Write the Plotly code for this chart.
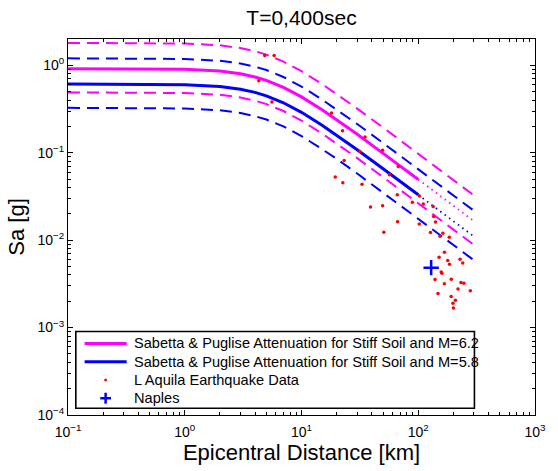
import plotly.graph_objects as go

# ---------------- data ----------------
dist = [0.1, 0.2, 0.5, 1, 2, 3, 4, 5, 7, 10, 15, 20, 30, 50, 70, 100, 150, 200, 300]

pink_med = [0.916, 0.916, 0.912, 0.901, 0.859, 0.801, 0.736, 0.672, 0.560, 0.435, 0.310, 0.239,
            0.1624, 0.0984, 0.0705, 0.0495, 0.0330, 0.0247, 0.0165]
pink_up = [1.804, 1.804, 1.797, 1.775, 1.692, 1.578, 1.450, 1.324, 1.103, 0.857, 0.611, 0.471,
           0.320, 0.194, 0.139, 0.0975, 0.0650, 0.0487, 0.0325]
pink_lo = [0.490, 0.490, 0.488, 0.482, 0.460, 0.429, 0.394, 0.360, 0.300, 0.233, 0.166, 0.128,
           0.0869, 0.0526, 0.0377, 0.0265, 0.0177, 0.0132, 0.00883]

blue_med = [0.610, 0.610, 0.607, 0.600, 0.572, 0.533, 0.490, 0.448, 0.373, 0.290, 0.206, 0.159,
            0.108, 0.0655, 0.0470, 0.0330, 0.0220, 0.0164, 0.0110]
blue_up = [1.202, 1.202, 1.196, 1.182, 1.127, 1.050, 0.965, 0.883, 0.735, 0.571, 0.406, 0.313,
           0.213, 0.129, 0.0926, 0.0650, 0.0433, 0.0323, 0.0217]
blue_lo = [0.326, 0.326, 0.325, 0.321, 0.306, 0.285, 0.262, 0.240, 0.200, 0.155, 0.110, 0.0851,
           0.0578, 0.0350, 0.0251, 0.0177, 0.0118, 0.00877, 0.00589]

# L'Aquila earthquake records (epicentral distance km, Sa g)
eq_dist = [4.31, 4.84, 5.83, 5.58, 18.07, 22.46, 35.0, 31.6, 49.5, 23.2, 19.45, 22.6, 67.4, 56.6,
           33.0, 66.1, 102.3, 89.1, 110.5, 134.1, 39.0, 49.5, 66.5, 135.6, 140.6, 102.0, 127.2,
           162.5, 153.7, 184.5, 50.7, 167.6, 150.8, 178.9, 185.3, 228.1, 240.4, 157.3, 159.4,
           139.3, 191.8, 167.3, 232.1, 246.0, 219.0, 279.3, 147.6, 191.4, 208.0, 198.2, 200.1]
eq_sa = [0.668, 1.291, 1.291, 0.381, 0.285, 0.1786, 0.1513, 0.1035, 0.1068, 0.0816, 0.0527, 0.0453,
         0.0697, 0.0560, 0.0436, 0.0330, 0.0319, 0.0272, 0.0259, 0.0243, 0.0239, 0.0248, 0.0162,
         0.01864, 0.0161, 0.01529, 0.01222, 0.01197, 0.01111, 0.01082, 0.01235, 0.00725, 0.00639,
         0.00584, 0.00531, 0.00606, 0.00547, 0.00433, 0.00417, 0.00354, 0.00358, 0.00318, 0.00327,
         0.00322, 0.00277, 0.00264, 0.00246, 0.00226, 0.00206, 0.00190, 0.00168]

naples_dist = [129.0]
naples_sa = [0.00485]

x_ticks = [0.1, 1, 10, 100, 1000]
x_ticktext = ["10<sup>−1</sup>", "10<sup>0</sup>", "10<sup>1</sup>", "10<sup>2</sup>", "10<sup>3</sup>"]
y_ticks = [1e-4, 1e-3, 1e-2, 1e-1, 1]
y_ticktext = ["10<sup>−4</sup>", "10<sup>−3</sup>", "10<sup>−2</sup>", "10<sup>−1</sup>", "10<sup>0</sup>"]

legend_names = ["Sabetta & Puglise Attenuation for Stiff Soil and M=6.2",
                "Sabetta & Puglise Attenuation for Stiff Soil and M=5.8",
                "L Aquila Earthquake Data",
                "Naples"]

MAG = "#ff00ff"
BLU = "#0000ff"
RED = "#ff0000"
FONT = "Liberation Sans, Arial, Helvetica, sans-serif"

# ---------------- layout geometry ----------------
W, H = 558, 471
PL, PR, PT, PB = 68, 546, 39, 415.7   # plot area in pixels


def px(xp):
    return (xp - PL) / (PR - PL)


def py(yp):
    return (PB - yp) / (PB - PT)


n_solid = dist.index(100) + 1

fig = go.Figure()

# dashed +/- sigma lines
for ys, col in [(pink_up, MAG), (pink_lo, MAG), (blue_up, BLU), (blue_lo, BLU)]:
    fig.add_trace(go.Scatter(x=dist, y=ys, mode="lines", showlegend=False, hoverinfo="skip",
                             line=dict(color=col, width=2, dash="12px,7px")))

# dotted extrapolation beyond 100 km
for ys, col in [(pink_med, MAG), (blue_med, BLU)]:
    fig.add_trace(go.Scatter(x=dist[n_solid - 1:], y=ys[n_solid - 1:], mode="lines",
                             showlegend=False, hoverinfo="skip",
                             line=dict(color=col, width=1.8, dash="1.5px,4px")))

# solid medians
fig.add_trace(go.Scatter(x=dist[:n_solid], y=pink_med[:n_solid], mode="lines",
                         name=legend_names[0], showlegend=False, line=dict(color=MAG, width=3)))
fig.add_trace(go.Scatter(x=dist[:n_solid], y=blue_med[:n_solid], mode="lines",
                         name=legend_names[1], showlegend=False, line=dict(color=BLU, width=3)))

fig.add_trace(go.Scatter(x=eq_dist, y=eq_sa, mode="markers", name=legend_names[2], showlegend=False,
                         marker=dict(color=RED, size=3.5, symbol="circle")))
fig.add_trace(go.Scatter(x=naples_dist, y=naples_sa, mode="markers", name=legend_names[3],
                         showlegend=False,
                         marker=dict(color=BLU, size=11, symbol="cross-thin",
                                     line=dict(color=BLU, width=2.5))))

# ---------------- legend box (drawn to match the MATLAB legend) ----------------
shapes = []
annotations = []
box = dict(x0=76, x1=484, y0=332, y1=409)
shapes.append(dict(type="rect", xref="paper", yref="paper",
                   x0=px(box["x0"]), x1=px(box["x1"]), y0=py(box["y1"]), y1=py(box["y0"]),
                   line=dict(color="black", width=1.6), fillcolor="white", layer="above"))
rows = [344, 362.3, 380.6, 398.9]
sx0, sx1, sxc, tx = 85, 128, 106.5, 134
shapes.append(dict(type="line", xref="paper", yref="paper", x0=px(sx0), x1=px(sx1),
                   y0=py(rows[0]), y1=py(rows[0]), line=dict(color=MAG, width=3), layer="above"))
shapes.append(dict(type="line", xref="paper", yref="paper", x0=px(sx0), x1=px(sx1),
                   y0=py(rows[1]), y1=py(rows[1]), line=dict(color=BLU, width=3), layer="above"))
shapes.append(dict(type="circle", xref="paper", yref="paper",
                   x0=px(sxc - 1.5), x1=px(sxc + 1.5), y0=py(rows[2] + 1.5), y1=py(rows[2] - 1.5),
                   line=dict(color=RED, width=0), fillcolor=RED, layer="above"))
shapes.append(dict(type="line", xref="paper", yref="paper", x0=px(sxc - 5.5), x1=px(sxc + 5.5),
                   y0=py(rows[3]), y1=py(rows[3]), line=dict(color=BLU, width=2.5), layer="above"))
shapes.append(dict(type="line", xref="paper", yref="paper", x0=px(sxc), x1=px(sxc),
                   y0=py(rows[3] - 5.5), y1=py(rows[3] + 5.5), line=dict(color=BLU, width=2.5),
                   layer="above"))
for name, ry in zip(legend_names, rows):
    annotations.append(dict(text=name, xref="paper", yref="paper", x=px(tx), y=py(ry),
                            xanchor="left", yanchor="middle", showarrow=False,
                            font=dict(size=14.6, family=FONT, color="black")))

minor_x = [m * 10 ** k for k in range(-1, 3) for m in range(2, 10)]
minor_y = [m * 10 ** k for k in range(-4, 1) for m in range(2, 10) if m * 10 ** k <= 2]

axis_common = dict(type="log", showgrid=False, zeroline=False, showline=True, linecolor="black",
                   linewidth=1, mirror="ticks", ticks="inside", ticklen=5, tickwidth=1,
                   tickcolor="black", tickfont=dict(family=FONT, size=14, color="black"))

fig.update_layout(
    width=W, height=H, autosize=False,
    margin=dict(l=PL, r=W - PR, t=PT, b=H - PB),
    paper_bgcolor="white", plot_bgcolor="white",
    font=dict(family=FONT, color="black"),
    showlegend=False,
    title=dict(text="T=0,400sec", x=0.5, xanchor="center", xref="paper",
               y=1 - 18 / H, yanchor="middle", font=dict(size=21, family=FONT, color="black")),
    xaxis=dict(**axis_common, range=[-1, 3], tickvals=x_ticks, ticktext=x_ticktext,
               ticklabelstandoff=4,
               minor=dict(tickmode="array", tickvals=minor_x, ticks="inside", ticklen=3,
                          tickcolor="black"),
               title=dict(text="Epicentral Distance [km]", font=dict(size=22, family=FONT),
                          standoff=4)),
    yaxis=dict(**axis_common, range=[-4, 0.30103], tickvals=y_ticks, ticktext=y_ticktext,
               minor=dict(tickmode="array", tickvals=minor_y, ticks="inside", ticklen=3,
                          tickcolor="black"),
               title=dict(text="Sa [g]", font=dict(size=22, family=FONT), standoff=6)),
    shapes=shapes,
    annotations=annotations,
)

fig.write_html("out.html")
